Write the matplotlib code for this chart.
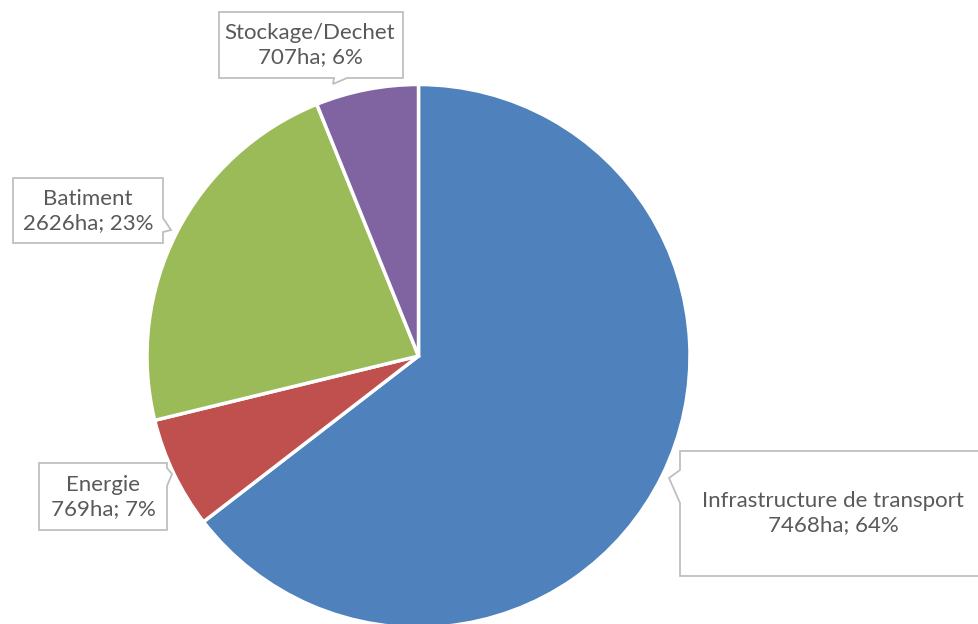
import matplotlib.pyplot as plt
from matplotlib.patches import Polygon

categories = ["Infrastructure de transport", "Energie", "Batiment", "Stockage/Dechet"]
surfaces = [7468, 769, 2626, 707]
percents = [64, 7, 23, 6]
colors = ["#4F81BD", "#C0504D", "#9BBB59", "#8064A2"]

W, H = 979, 624
fig = plt.figure(figsize=(W / 100, H / 100), dpi=100)
plt.rcParams['font.family'] = ['Lato', 'DejaVu Sans']

# pie axes placed in pixel space: centre (418.5, 356), radius 271.5
cx, cy, r = 418.5, 356, 271.5
ax = fig.add_axes([(cx - r) / W, (H - cy - r) / H, 2 * r / W, 2 * r / H])
ax.pie(surfaces, colors=colors, startangle=90, counterclock=False, radius=1,
       wedgeprops=dict(edgecolor="white", linewidth=2.5))
ax.set_xlim(-1, 1)
ax.set_ylim(-1, 1)
ax.set_aspect("auto")
ax.axis("off")


def px(pts):
    return [(x / W, 1 - y / H) for x, y in pts]


# callout outlines (pixel coordinates, y down)
callouts = [
    # infrastructure: pointer on left
    [(680, 451), (979, 451), (979, 576), (680, 576), (680, 503), (669, 478), (680, 470)],
    # energie: pointer on right top
    [(39, 463), (167, 463), (167, 468), (172, 474), (167, 486), (167, 530), (39, 530)],
    # batiment: pointer on right
    [(13, 178), (163, 178), (163, 218), (171, 230), (163, 232), (163, 243), (13, 243)],
    # stockage: pointer on bottom
    [(219, 12), (403, 12), (403, 78), (347, 78), (333, 84), (334, 78), (219, 78)],
]
centers = [(833, 513), (103, 497), (88, 211), (310, 45)]

for poly in callouts:
    fig.patches.append(Polygon(px(poly), closed=True, transform=fig.transFigure,
                               facecolor="white", edgecolor="#BFBFBF", linewidth=1.3))

for i, (x, y) in enumerate(centers):
    label = f"{categories[i]}\n{surfaces[i]}ha; {percents[i]}%"
    fig.text(x / W, 1 - y / H, label, ha="center", va="center", fontsize=16,
             color="#595959", linespacing=1.3)

fig.savefig("out.png", dpi=100)
